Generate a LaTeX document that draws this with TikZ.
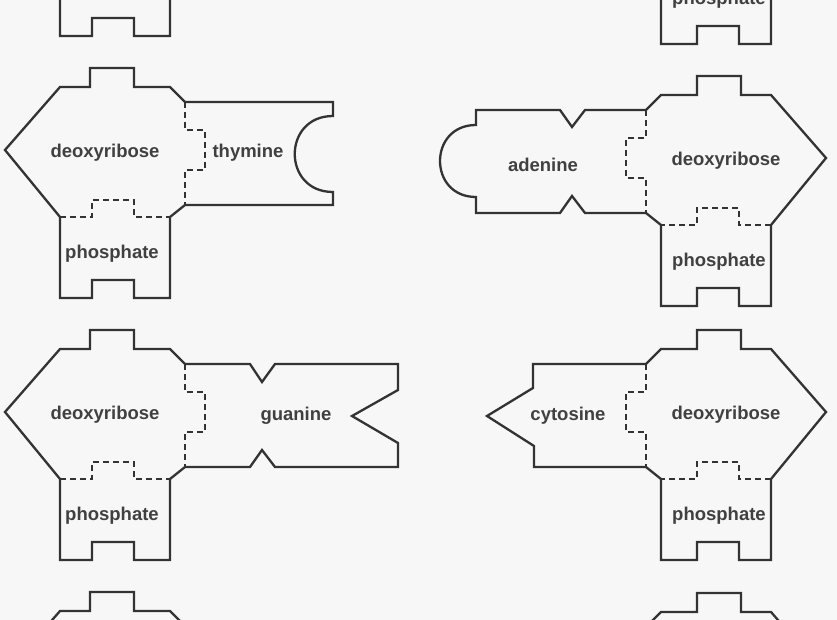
\documentclass[tikz,border=0pt]{standalone}
\usepackage{fontspec}
\setmainfont{Liberation Sans}
\usetikzlibrary{positioning}

\tikzset{
  outline/.style={line width=2.3pt, line join=miter, draw=black!80},
  bond/.style={line width=2.3pt, dashed, dash pattern=on 6pt off 4pt, draw=black!80},
  lbl/.style={font=\fontsize{18.5}{20}\selectfont\bfseries, text=black!75}
}

% one sugar with its phosphate; #1 name, #2 shift, #3 xscale
\newcommand\dnaunit[3]{%
\begin{scope}[shift={(0,#2)}, xscale=#3]
\draw[outline] (185,102)--(170,87)--(134,87)--(134,68)--(90,68)--(90,87)--(60,87)--(5,150)
  --(60,217)--(60,298)--(92,298)--(92,280)--(134,280)--(134,298)--(170,298)--(170,217)--(185,205);
\draw[bond] (185,102)--(185,130)--(205,130)--(205,170)--(185,170)--(185,205);
\draw[bond] (60,217)--(92,217)--(92,200)--(134,200)--(134,217)--(170,217);
\node[lbl] (#1s) at (105,153) {deoxyribose};
\node[lbl] (#1p) at (112,254) {phosphate};
\end{scope}}

\begin{document}
\begin{tikzpicture}[x=1pt,y=-1pt]
\useasboundingbox (0,0) rectangle (837,620);
\clip (0,0) rectangle (837,620);
\fill[black!3] (0,0) rectangle (837,620);

% left strand
\dnaunit{a}{-262}{1}
\dnaunit{b}{0}{1}
\dnaunit{c}{262}{1}
\dnaunit{d}{524}{1}
% right strand
\begin{scope}[xshift=831pt]
\dnaunit{e}{-254}{-1}
\dnaunit{f}{8}{-1}
\dnaunit{g}{262}{-1}
\dnaunit{h}{525}{-1}
\end{scope}

% thymine
\draw[outline] (185,102)--(333,102)--(333,116) .. controls (282,116) and (282,192) .. (333,192)
  --(333,205)--(185,205);
\node[lbl] (thy) at (248,153) {thymine};
% adenine
\draw[outline] (646,110)--(585,110)--(572,127)--(560,110)--(476,110)--(476,125)
  .. controls (428,125) and (428,197) .. (476,197)--(476,213)--(560,213)--(572,196)--(585,213)--(646,213);
\node[lbl] (ade) at (543,165) {adenine};
% guanine
\draw[outline] (185,364)--(250,364)--(262,382)--(275,364)--(398,364)--(398,390)--(352,416)
  --(398,443)--(398,467)--(275,467)--(262,450)--(250,467)--(185,467);
\node[lbl] (gua) at (296,416) {guanine};
% cytosine
\draw[outline] (646,364)--(533,364)--(533,388)--(487,416)--(534,446)--(534,467)--(646,467);
\node[lbl] (cyt) at (568,416) {cytosine};
\end{tikzpicture}
\end{document}
